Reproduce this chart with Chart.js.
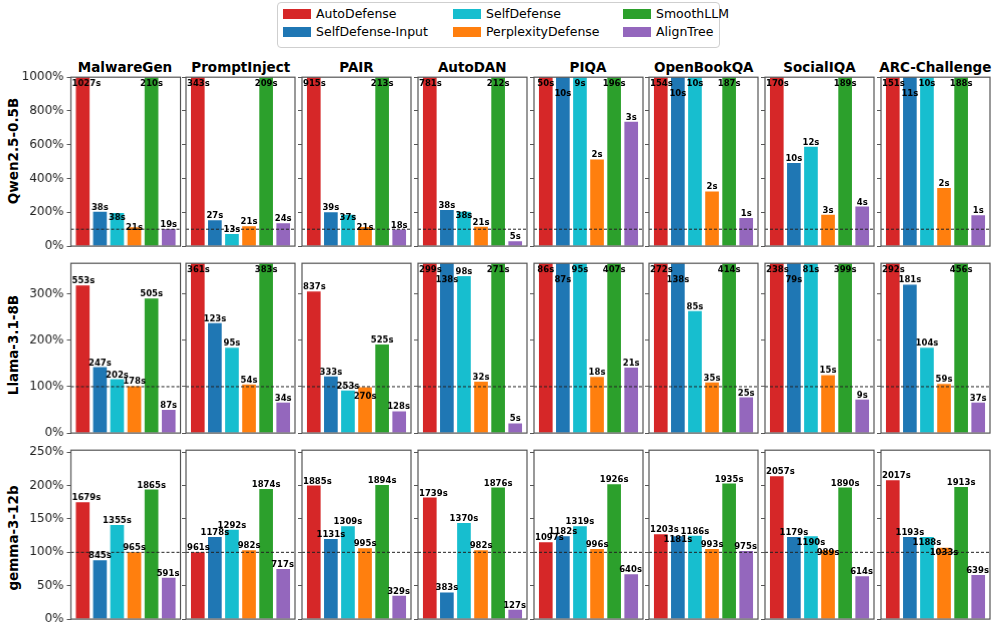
<!DOCTYPE html>
<html>
<head>
<meta charset="utf-8">
<script src="https://cdn.jsdelivr.net/npm/chart.js@4.4.1/dist/chart.umd.min.js"></script>
<style>
body { margin: 0; background: #fff; width: 996px; height: 632px; overflow: hidden; position: relative; font-family: "DejaVu Sans", sans-serif; }
.panel { position: absolute; }
.title { position: absolute; font-weight: bold; font-size: 13.5px; line-height: 16px; white-space: nowrap; transform: translateX(-50%); }
.rowlab { position: absolute; font-weight: bold; font-size: 13.5px; line-height: 16px; white-space: nowrap; transform: translate(-50%, -50%) rotate(-90deg); }
#legend { position: absolute; left: 277px; top: 2px; width: 441px; height: 44px; border: 1px solid #cfcfcf; border-radius: 4px; }
.lg { position: absolute; font-size: 12.5px; line-height: 14px; white-space: nowrap; }
.sw { position: absolute; width: 28px; height: 10px; }
</style>
</head>
<body>
<div id="legend"></div>
<script>
const methods = ["AutoDefense", "SelfDefense-Input", "SelfDefense", "PerplexityDefense", "SmoothLLM", "AlignTree"];
const colors = ["#d62728", "#1f77b4", "#17becf", "#ff7f0e", "#2ca02c", "#9467bd"];
const benchmarks = ["MalwareGen", "PromptInject", "PAIR", "AutoDAN", "PIQA", "OpenBookQA", "SocialIQA", "ARC-Challenge"];
const models = ["Qwen2.5-0.5B", "Llama-3.1-8B", "gemma-3-12b"];

// relative cost (%) per benchmark, one value per method
const qwenPct = [
  [5460, 204, 196, 112, 1120, 101],
  [1950, 153, 72, 117, 1190, 135],
  [4690, 200, 186, 113, 1090, 98],
  [4340, 213, 204, 115, 1180, 29],
  [12500, 2500, 2250, 513, 49000, 736],
  [25000, 1670, 1670, 323, 31000, 167],
  [8370, 492, 588, 185, 9300, 234],
  [26000, 1900, 1720, 344, 32400, 182]
];
const qwenTime = [
  [1027, 38, 38, 21, 210, 19],
  [343, 27, 13, 21, 209, 24],
  [915, 39, 37, 21, 213, 18],
  [781, 38, 38, 21, 212, 5],
  [50, 10, 9, 2, 196, 3],
  [154, 10, 10, 2, 187, 1],
  [170, 10, 12, 3, 189, 4],
  [151, 11, 10, 2, 188, 1]
];
const llamaPct = [
  [318, 142, 116, 101, 290, 50],
  [694, 237, 184, 105, 737, 66],
  [305, 122, 92, 99, 191, 47],
  [1030, 476, 338, 111, 935, 21],
  [577, 584, 638, 121, 2730, 141],
  [842, 427, 263, 109, 1280, 77],
  [1935, 642, 658, 125, 3240, 72],
  [517, 320, 184, 106, 807, 66]
];
const llamaTime = [
  [553, 247, 202, 178, 505, 87],
  [361, 123, 95, 54, 383, 34],
  [837, 333, 253, 270, 525, 128],
  [299, 138, 98, 32, 271, 5],
  [86, 87, 95, 18, 407, 21],
  [272, 138, 85, 35, 414, 25],
  [238, 79, 81, 15, 399, 9],
  [292, 181, 104, 59, 456, 37]
];
const gemmaPct = [
  [175, 88, 141, 100, 194, 62],
  [100, 123, 134, 103, 195, 75],
  [200, 120, 139, 106, 201, 35],
  [182, 40, 144, 103, 197, 14],
  [115, 124, 139, 105, 202, 67],
  [127, 124, 125, 105, 203, 102],
  [214, 123, 124, 103, 197, 64],
  [208, 123, 123, 107, 198, 66]
];
const gemmaTime = [
  [1679, 845, 1355, 965, 1865, 591],
  [961, 1178, 1292, 982, 1874, 717],
  [1885, 1131, 1309, 995, 1894, 329],
  [1739, 383, 1370, 982, 1876, 127],
  [1097, 1182, 1319, 996, 1926, 640],
  [1203, 1181, 1186, 993, 1935, 975],
  [2057, 1179, 1190, 989, 1890, 614],
  [2017, 1193, 1188, 1033, 1913, 639]
];
const yMax = [1000, 366, 253];
const yTicks = [
  [0, 200, 400, 600, 800, 1000],
  [0, 100, 200, 300],
  [0, 50, 100, 150, 200, 250]
];
const refLine = 100;

const rowPct = [qwenPct, llamaPct, gemmaPct];
const rowTime = [qwenTime, llamaTime, gemmaTime];

Chart.defaults.font.family = "'DejaVu Sans'";

// panel grid
const X0 = 70.5, XPITCH = 115.75, PW = 109;
const Y0 = 75, YPITCH = 186.3, PH = 173.3;
const rowLabelY = [151, 344.5, 537.5];

// legend
const legend = document.getElementById("legend");
methods.forEach((m, i) => {
  const col = Math.floor(i / 2), row = i % 2;
  const sw = document.createElement("div");
  sw.className = "sw";
  sw.style.left = (5 + col * 170) + "px";
  sw.style.top = (6 + row * 18) + "px";
  sw.style.background = colors[i];
  legend.appendChild(sw);
  const t = document.createElement("div");
  t.className = "lg";
  t.style.left = (38 + col * 170) + "px";
  t.style.top = (4 + row * 18) + "px";
  t.textContent = m;
  legend.appendChild(t);
});

const panelPlugin = {
  id: "panel",
  afterDatasetsDraw(chart) {
    const { ctx, chartArea: a, scales: { y } } = chart;
    const ds = chart.data.datasets[0];
    const meta = chart.getDatasetMeta(0);
    ctx.save();
    // 100% reference line
    const yy = y.getPixelForValue(refLine);
    ctx.strokeStyle = "#222";
    ctx.lineWidth = 1;
    ctx.setLineDash([3, 2]);
    ctx.beginPath();
    ctx.moveTo(a.left, yy);
    ctx.lineTo(a.right, yy);
    ctx.stroke();
    ctx.setLineDash([]);
    // frame
    ctx.strokeStyle = "#555";
    ctx.lineWidth = 1.2;
    ctx.strokeRect(a.left, a.top, a.right - a.left, a.bottom - a.top);
    // time labels, pushed down when they collide
    ctx.font = "bold 8.5px 'DejaVu Sans'";
    ctx.fillStyle = "#000";
    ctx.textAlign = "left";
    ctx.textBaseline = "bottom";
    const h = 10;
    const boxes = [];
    ds.times.forEach((t, i) => {
      const txt = t + "s";
      const w = ctx.measureText(txt).width;
      const bar = meta.data[i];
      let left = Math.min(Math.max(bar.x - w / 2, a.left + 1), a.right - 1 - w);
      let bottom = Math.max(y.getPixelForValue(ds.data[i].y), a.top + 1 + h);
      let moved = true;
      while (moved) {
        moved = false;
        for (const b of boxes) {
          const hx = Math.min(left + w, b.l + b.w) - Math.max(left, b.l);
          const vy = Math.min(bottom, b.b) - Math.max(bottom - h, b.b - h);
          if (hx > -1 && vy > 4) { bottom = b.b + h; moved = true; }
        }
      }
      boxes.push({ l: left, w: w, b: bottom });
      ctx.fillText(txt, left, bottom);
    });
    ctx.restore();
  }
};

models.forEach((model, r) => {
  const rl = document.createElement("div");
  rl.className = "rowlab";
  rl.style.left = "12.5px";
  rl.style.top = rowLabelY[r] + "px";
  rl.textContent = model;
  document.body.appendChild(rl);

  benchmarks.forEach((bench, c) => {
    const left = X0 + c * XPITCH;
    const top = Y0 + r * YPITCH;
    const L = c === 0 ? left : 8, T = 8, B = 8, R = 4;

    if (r === 0) {
      const tt = document.createElement("div");
      tt.className = "title";
      tt.style.left = (left + PW / 2) + "px";
      tt.style.top = "59px";
      tt.textContent = bench;
      document.body.appendChild(tt);
    }

    const div = document.createElement("div");
    div.className = "panel";
    div.style.left = (left - L) + "px";
    div.style.top = (top - T) + "px";
    div.style.width = (PW + L + R) + "px";
    div.style.height = (PH + T + B) + "px";
    const cv = document.createElement("canvas");
    div.appendChild(cv);
    document.body.appendChild(div);

    new Chart(cv, {
      type: "bar",
      data: {
        datasets: [{
          data: rowPct[r][c].map((v, i) => ({ x: i, y: v })),
          times: rowTime[r][c],
          backgroundColor: colors,
          borderWidth: 0,
          barPercentage: 0.8,
          categoryPercentage: 1,
          clip: 0
        }]
      },
      options: {
        animation: false,
        responsive: true,
        maintainAspectRatio: false,
        layout: { padding: { left: 0, top: T, right: R, bottom: B } },
        plugins: { legend: { display: false }, tooltip: { enabled: false } },
        scales: {
          x: { type: "linear", display: false, min: -0.69, max: 5.69, offset: false, grid: { offset: false } },
          y: {
            min: 0,
            max: yMax[r],
            afterFit(axis) { axis.width = L; },
            afterBuildTicks(axis) { axis.ticks = yTicks[r].map(v => ({ value: v })); },
            border: { display: false },
            grid: { drawOnChartArea: false, drawTicks: true, tickLength: 4, color: "#555" },
            ticks: {
              padding: 3,
              color: "#222",
              font: { family: "'DejaVu Sans'", size: 12 },
              callback: v => (c === 0 ? v + "%" : "")
            }
          }
        }
      },
      plugins: [panelPlugin]
    });
  });
});
</script>
</body>
</html>
